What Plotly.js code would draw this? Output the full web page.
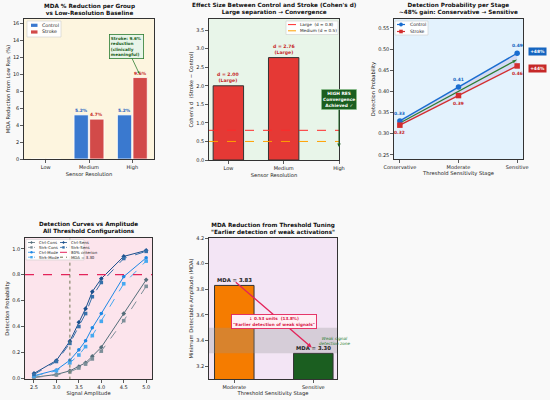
<!DOCTYPE html>
<html><head><meta charset="utf-8">
<script src="https://cdn.plot.ly/plotly-3.0.1.min.js"></script>
<style>html,body{margin:0;padding:0;background:#f9f9f9}#chart{width:550px;height:400px}</style>
</head><body><div id="chart"></div>
<script>
// ---------------- data ----------------
const resCats = ['Low', 'Medium', 'High'];
const mdaRedControl = [0, 5.2, 5.2];
const mdaRedStroke = [0, 4.7, 9.6];

const cohenD = [2.00, 2.76, null];
const cohenLabel = ['Large', 'Large', ''];
const effLarge = 0.8;
const effMedium = 0.5;
const convergenceD = 0.35;

const stages = ['Conservative', 'Moderate', 'Sensitive'];
const detControl = [0.33, 0.41, 0.49];
const detStroke = [0.32, 0.39, 0.46];
const detMean = [0.325, 0.40, 0.475];

const amps = [2.5, 3.0, 3.3, 3.5, 3.65, 3.8, 4.0, 4.5, 5.0];
const ctrlCons = [0.008, 0.03, 0.058, 0.09, 0.12, 0.17, 0.24, 0.50, 0.76];
const strkCons = [0.006, 0.026, 0.05, 0.08, 0.11, 0.15, 0.21, 0.445, 0.71];
const ctrlMode = [0.02, 0.065, 0.14, 0.22, 0.29, 0.39, 0.50, 0.785, 0.93];
const strkMode = [0.018, 0.058, 0.12, 0.18, 0.245, 0.33, 0.44, 0.73, 0.905];
const ctrlSens = [0.038, 0.138, 0.287, 0.433, 0.538, 0.669, 0.769, 0.941, 0.987];
const strkSens = [0.03, 0.13, 0.27, 0.40, 0.50, 0.63, 0.74, 0.925, 0.98];
const criterion = 0.8;

const mdaStages = ['Moderate', 'Sensitive'];
const mdaValues = [3.83, 3.30];
const weakZone = [3.3, 3.5];

// ---------------- helpers ----------------
const W = 550, H = 400;
const PX = x => x / W, PY = y => 1 - y / H;
const F = 'DejaVu Sans, Liberation Sans, sans-serif';
const shapes = [], annotations = [], traces = [];

function axis(d0, d1, anchor, extra) {
  return Object.assign({
    domain: [d0, d1], anchor: anchor, showline: true, mirror: true, linecolor: '#333',
    linewidth: 1.2, ticks: 'outside', ticklen: 2.5, tickwidth: 0.8, tickcolor: '#333',
    showgrid: false, zeroline: false, tickfont: {size: 5, color: '#222'}, automargin: false
  }, extra);
}
function title(t) { return {text: t, font: {size: 5.2, color: '#222'}, standoff: 2}; }

const dom = {
  p1: {x: [PX(24), PX(154)], y: [PY(159), PY(19)]},
  p2: {x: [PX(209), PX(339)], y: [PY(160), PY(19)]},
  p3: {x: [PX(394), PX(523)], y: [PY(159), PY(19)]},
  p4: {x: [PX(25), PX(152)], y: [PY(379), PY(238)]},
  p5: {x: [PX(209), PX(337)], y: [PY(379), PY(238)]}
};
const bgs = [['', '#fdf5df'], ['2', '#e8f5e9'], ['3', '#e3f2fd'], ['4', '#fce4ec'], ['5', '#f3e5f5']];
bgs.forEach(([s, c]) => shapes.push({type: 'rect', xref: 'x' + s + ' domain', yref: 'y' + s + ' domain',
  x0: 0, x1: 1, y0: 0, y1: 1, fillcolor: c, line: {width: 0}, layer: 'below'}));

function ptitle(cx, topPx, text) {
  annotations.push({xref: 'paper', yref: 'paper', x: PX(cx), y: PY(topPx), xanchor: 'center', yanchor: 'bottom', yshift: 1,
    showarrow: false, text: text, font: {size: 5.7, color: '#111'}, align: 'center'});
}

function drawLegend(box, items, fs) {
  shapes.push({type: 'rect', xref: 'paper', yref: 'paper', x0: PX(box[0]), x1: PX(box[1]),
    y0: PY(box[3]), y1: PY(box[2]), fillcolor: 'rgba(255,255,255,0.9)', line: {color: '#cfcfcf', width: 0.6}, layer: 'above'});
  items.forEach(it => {
    if (it.patch) {
      shapes.push({type: 'rect', xref: 'paper', yref: 'paper', x0: PX(it.sx0), x1: PX(it.sx1),
        y0: PY(it.y + 1.6), y1: PY(it.y - 1.6), fillcolor: it.color, line: {width: 0}, layer: 'above'});
    } else {
      shapes.push({type: 'line', xref: 'paper', yref: 'paper', x0: PX(it.sx0), x1: PX(it.sx1),
        y0: PY(it.y), y1: PY(it.y), line: {color: it.color, width: it.lw || 1, dash: it.dash || 'solid'}, layer: 'above'});
      if (it.sym) {
        const cx = (it.sx0 + it.sx1) / 2, r = it.r || 1.5;
        if (it.sym === 'circle') {
          shapes.push({type: 'circle', xref: 'paper', yref: 'paper', x0: PX(cx - r), x1: PX(cx + r),
            y0: PY(it.y + r), y1: PY(it.y - r), fillcolor: it.color, line: {width: 0}, layer: 'above'});
        } else if (it.sym === 'square') {
          shapes.push({type: 'rect', xref: 'paper', yref: 'paper', x0: PX(cx - r), x1: PX(cx + r),
            y0: PY(it.y + r), y1: PY(it.y - r), fillcolor: it.color, line: {width: 0}, layer: 'above'});
        } else {
          const p = `M${PX(cx - r * 1.2)},${PY(it.y)} L${PX(cx)},${PY(it.y - r * 1.2)} L${PX(cx + r * 1.2)},${PY(it.y)} L${PX(cx)},${PY(it.y + r * 1.2)} Z`;
          shapes.push({type: 'path', xref: 'paper', yref: 'paper', path: p, fillcolor: it.color, line: {width: 0}, layer: 'above'});
        }
      }
    }
    annotations.push({xref: 'paper', yref: 'paper', x: PX(it.tx), y: PY(it.y), xanchor: 'left', yanchor: 'middle',
      showarrow: false, text: it.name, font: {size: fs, color: '#222'}});
  });
}

// ---------------- panel 1 ----------------
const cBlue = '#3a79cf', cRed = '#d24a49';
const xi = resCats.map((_, i) => i);
traces.push({type: 'bar', x: xi, y: mdaRedControl, width: 0.33, offset: -0.345, xaxis: 'x', yaxis: 'y',
  marker: {color: cBlue, line: {color: '#ffffff', width: 0.8}}, showlegend: false, hoverinfo: 'skip'});
traces.push({type: 'bar', x: xi, y: mdaRedStroke, width: 0.33, offset: 0.015, xaxis: 'x', yaxis: 'y',
  marker: {color: cRed, line: {color: '#ffffff', width: 0.8}}, showlegend: false, hoverinfo: 'skip'});
xi.forEach(i => {
  if (mdaRedControl[i] > 0) annotations.push({xref: 'x', yref: 'y', x: i - 0.18, y: mdaRedControl[i], xanchor: 'center', yanchor: 'bottom', yshift: 0,
    showarrow: false, text: '<b>' + mdaRedControl[i].toFixed(1) + '%</b>', font: {size: 4.4, color: '#1f5fbf'}});
  if (mdaRedStroke[i] > 0) annotations.push({xref: 'x', yref: 'y', x: i + 0.18, y: mdaRedStroke[i], xanchor: 'center', yanchor: 'bottom', yshift: 0,
    showarrow: false, text: '<b>' + mdaRedStroke[i].toFixed(1) + '%</b>', font: {size: 4.4, color: '#c62828'}});
});
annotations.push({xref: 'x', yref: 'y', x: 2.16, y: mdaRedStroke[2] + 0.45, axref: 'x', ayref: 'y', ax: 1.86, ay: 13.3,
  showarrow: true, arrowhead: 2, arrowsize: 0.6, arrowwidth: 0.8, arrowcolor: '#2e7d32', align: 'left',
  text: '<b>Stroke: ' + mdaRedStroke[2].toFixed(1) + '%<br>reduction<br>(clinically<br>meaningful)</b>',
  font: {size: 4.2, color: '#1b5e20'}, bgcolor: '#e8f5e9', bordercolor: '#2e7d32', borderwidth: 0.8, borderpad: 1});
ptitle(89, 19, '<b>MDA % Reduction per Group<br>vs Low-Resolution Baseline</b>');
drawLegend([27, 61, 21, 37], [
  {name: 'Control', color: cBlue, patch: true, sx0: 31, sx1: 37.5, y: 25.3, tx: 40},
  {name: 'Stroke', color: cRed, patch: true, sx0: 31, sx1: 37.5, y: 32, tx: 40}], 4.7);

// ---------------- panel 2 ----------------
traces.push({type: 'bar', x: xi, y: cohenD, width: 0.55, xaxis: 'x2', yaxis: 'y2',
  marker: {color: '#e53935', line: {color: '#333', width: 1}}, showlegend: false, hoverinfo: 'skip'});
traces.push({type: 'scatter', mode: 'lines', x: [-0.35, 2.0], y: [effLarge, effLarge], xaxis: 'x2', yaxis: 'y2',
  line: {color: '#ff2a2a', width: 1, dash: 'dash'}, showlegend: false, hoverinfo: 'skip'});
traces.push({type: 'scatter', mode: 'lines', x: [-0.35, 2.0], y: [effMedium, effMedium], xaxis: 'x2', yaxis: 'y2',
  line: {color: '#ffa000', width: 1, dash: 'dash'}, showlegend: false, hoverinfo: 'skip'});
cohenD.forEach((v, i) => {
  if (v != null) annotations.push({xref: 'x2', yref: 'y2', x: i, y: v, xanchor: 'center', yanchor: 'bottom', yshift: 1, showarrow: false,
    text: '<b>d = ' + v.toFixed(2) + '<br>(' + cohenLabel[i] + ')</b>', font: {size: 4.6, color: '#c62828'}});
});
annotations.push({xref: 'x2', yref: 'y2', x: 2, y: convergenceD, axref: 'x2', ayref: 'y2', ax: 2, ay: 1.63,
  showarrow: true, arrowhead: 2, arrowsize: 0.7, arrowwidth: 1, arrowcolor: '#1b5e20',
  text: '<b>HIGH RES<br>Convergence<br>Achieved ✓</b>', font: {size: 4.4, color: '#ffffff'},
  bgcolor: '#1b5e20', bordercolor: '#a5d6a7', borderwidth: 0.6, borderpad: 1.5});
ptitle(274, 19, "<b>Effect Size Between Control and Stroke (Cohen's d)<br>Large separation → Convergence</b>");
drawLegend([286, 338, 21, 34.5], [
  {name: 'Large  (d = ' + effLarge + ')', color: '#ff2a2a', dash: 'dash', sx0: 288, sx1: 296, y: 24.6, tx: 298},
  {name: 'Medium (d = ' + effMedium + ')', color: '#ffa000', dash: 'dash', sx0: 288, sx1: 296, y: 30.8, tx: 298}], 4.2);

// ---------------- panel 3 ----------------
const cB3 = '#1a6dd0', cR3 = '#d32f2f', cG3 = '#2e7d32';
traces.push({type: 'scatter', mode: 'lines', x: [0, 1, 2, 2, 1, 0], y: detControl.concat(detStroke.slice().reverse()),
  fill: 'toself', fillcolor: 'rgba(170,150,215,0.25)', line: {width: 0}, xaxis: 'x3', yaxis: 'y3', showlegend: false, hoverinfo: 'skip'});
traces.push({type: 'scatter', mode: 'lines+markers', x: [0, 1, 2], y: detMean, xaxis: 'x3', yaxis: 'y3',
  line: {color: cG3, width: 1.2}, marker: {symbol: 'arrow', angleref: 'previous', size: 5, color: cG3, opacity: [0, 0, 1]},
  showlegend: false, hoverinfo: 'skip'});
traces.push({type: 'scatter', mode: 'lines+markers', x: [0, 1, 2], y: detControl, xaxis: 'x3', yaxis: 'y3',
  line: {color: cB3, width: 1.4}, marker: {symbol: 'circle', size: 5.5, color: cB3}, showlegend: false, hoverinfo: 'skip'});
traces.push({type: 'scatter', mode: 'lines+markers', x: [0, 1, 2], y: detStroke, xaxis: 'x3', yaxis: 'y3',
  line: {color: cR3, width: 1.4}, marker: {symbol: 'square', size: 5.5, color: cR3}, showlegend: false, hoverinfo: 'skip'});
detControl.forEach((v, i) => {
  annotations.push({xref: 'x3', yref: 'y3', x: i, y: v, xanchor: 'center', yanchor: 'bottom', yshift: 3, showarrow: false,
    text: '<b>' + v.toFixed(2) + '</b>', font: {size: 4.4, color: '#1565c0'}});
  annotations.push({xref: 'x3', yref: 'y3', x: i, y: detStroke[i], xanchor: 'center', yanchor: 'top', yshift: -3, showarrow: false,
    text: '<b>' + detStroke[i].toFixed(2) + '</b>', font: {size: 4.4, color: '#c62828'}});
});
const gC = Math.round((detControl[2] - detControl[0]) / detControl[0] * 100);
const gS = Math.round((detStroke[2] - detStroke[0]) / detStroke[0] * 100);
annotations.push({xref: 'paper', yref: 'y3', x: PX(537), y: detControl[2] + 0.003, xanchor: 'center', showarrow: false,
  text: '<b>+' + gC + '%</b>', font: {size: 4.4, color: '#fff'}, bgcolor: '#1565c0', borderpad: 1.2});
annotations.push({xref: 'paper', yref: 'y3', x: PX(537), y: detStroke[2] - 0.005, xanchor: 'center', showarrow: false,
  text: '<b>+' + gS + '%</b>', font: {size: 4.4, color: '#fff'}, bgcolor: '#c62828', borderpad: 1.2});
ptitle(458.5, 19, '<b>Detection Probability per Stage<br>~48% gain: Conservative → Sensitive</b>');
drawLegend([395, 428, 21, 35], [
  {name: 'Control', color: cB3, sym: 'circle', r: 1.9, lw: 1.2, sx0: 397, sx1: 405, y: 24.5, tx: 408},
  {name: 'Stroke', color: cR3, sym: 'square', r: 1.8, lw: 1.2, sx0: 397, sx1: 405, y: 31.5, tx: 408}], 4.5);

// ---------------- panel 4 ----------------
const curves = [
  {name: 'Ctrl-Cons', y: ctrlCons, color: '#546e7a', dash: 'solid', sym: 'diamond'},
  {name: 'Strk-Cons', y: strkCons, color: '#7d8f99', dash: 'dash', sym: 'square'},
  {name: 'Ctrl-Mode', y: ctrlMode, color: '#1e88e5', dash: 'solid', sym: 'circle'},
  {name: 'Strk-Mode', y: strkMode, color: '#45a8f0', dash: 'dash', sym: 'square'},
  {name: 'Ctrl-Sens', y: ctrlSens, color: '#1a4f8c', dash: 'solid', sym: 'diamond'},
  {name: 'Strk-Sens', y: strkSens, color: '#3670aa', dash: 'dash', sym: 'square'}];
curves.forEach(c => traces.push({type: 'scatter', mode: 'lines+markers', x: amps, y: c.y, xaxis: 'x4', yaxis: 'y4',
  line: {color: c.color, width: 1, dash: c.dash}, marker: {symbol: c.sym, size: 3.6, color: c.color},
  showlegend: false, hoverinfo: 'skip'}));
traces.push({type: 'scatter', mode: 'lines', x: [2.3, 5.13], y: [criterion, criterion], xaxis: 'x4', yaxis: 'y4',
  line: {color: '#e3245a', width: 1.2, dash: 'dash'}, showlegend: false, hoverinfo: 'skip'});
traces.push({type: 'scatter', mode: 'lines', x: [mdaValues[1], mdaValues[1]], y: [-0.01, 1.08], xaxis: 'x4', yaxis: 'y4',
  line: {color: '#6f7552', width: 1, dash: 'dot'}, showlegend: false, hoverinfo: 'skip'});
ptitle(88.5, 238, '<b>Detection Curves vs Amplitude<br>All Threshold Configurations</b>');
const lg4 = [];
const rows = [242.5, 247.4, 252.3, 257.2];
curves.slice(0, 4).forEach((c, k) => lg4.push({name: c.name, color: c.color, dash: c.dash === 'dash' ? 'dot' : 'solid', sym: c.sym, r: 1.2, lw: 0.8, sx0: 28, sx1: 35, y: rows[k], tx: 36.5}));
curves.slice(4).forEach((c, k) => lg4.push({name: c.name, color: c.color, dash: c.dash === 'dash' ? 'dot' : 'solid', sym: c.sym, r: 1.2, lw: 0.8, sx0: 60, sx1: 67, y: rows[k], tx: 68.5}));
lg4.push({name: (criterion * 100) + '% criterion', color: '#e3245a', dash: 'dash', lw: 1, sx0: 60, sx1: 67, y: rows[2], tx: 68.5});
lg4.push({name: 'MDA = ' + mdaValues[1].toFixed(2), color: '#6f7552', dash: 'dot', lw: 1, sx0: 60, sx1: 67, y: rows[3], tx: 68.5});
drawLegend([26, 84, 239.5, 260], lg4, 3.9);

// ---------------- panel 5 ----------------
traces.push({type: 'bar', x: [0, 1], y: mdaValues, width: 0.5, xaxis: 'x5', yaxis: 'y5',
  marker: {color: ['#f57c00', '#1b5e20'], line: {color: '#333', width: 1}}, showlegend: false, hoverinfo: 'skip'});
shapes.push({type: 'rect', xref: 'x5 domain', yref: 'y5', x0: 0, x1: 1, y0: weakZone[0], y1: weakZone[1],
  fillcolor: 'rgba(150,150,150,0.3)', line: {width: 0}, layer: 'above'});
mdaValues.forEach((v, i) => annotations.push({xref: 'x5', yref: 'y5', x: i, y: v, xanchor: 'center', yanchor: 'bottom', yshift: 0,
  showarrow: false, text: '<b>MDA = ' + v.toFixed(2) + '</b>', font: {size: 5.3, color: '#222'}}));
annotations.push({xref: 'x5', yref: 'y5', x: 0.98, y: 3.345, axref: 'x5', ayref: 'y5', ax: 0.0, ay: 3.865,
  showarrow: true, arrowhead: 2, arrowsize: 0.7, arrowwidth: 1.3, arrowcolor: '#e3245a', text: ''});
const dM = mdaValues[0] - mdaValues[1];
annotations.push({xref: 'x5', yref: 'y5', x: 0.505, y: 3.545, xanchor: 'center', showarrow: false,
  text: '<b>↓ ' + dM.toFixed(2) + ' units  (' + (dM / mdaValues[0] * 100).toFixed(1) + '%)<br>"Earlier detection of weak signals"</b>',
  font: {size: 4.2, color: '#d81b4a'}, bgcolor: '#fff0f4', bordercolor: '#e3245a', borderwidth: 0.9, borderpad: 1.2});
annotations.push({xref: 'x5', yref: 'y5', x: 1.28, y: 3.40, xanchor: 'center', showarrow: false,
  text: '<i>Weak signal<br>detection zone</i>', font: {size: 4.2, color: '#2e7d32'}});
ptitle(273, 238, '<b>MDA Reduction from Threshold Tuning<br>"Earlier detection of weak activations"</b>');

// ---------------- layout ----------------
const layout = {
  width: W, height: H, margin: {l: 0, r: 0, t: 0, b: 0}, paper_bgcolor: '#f9f9f9', plot_bgcolor: 'rgba(0,0,0,0)',
  font: {family: F, size: 5, color: '#222'}, showlegend: false, barmode: 'overlay',
  xaxis: axis(dom.p1.x[0], dom.p1.x[1], 'y', {range: [-0.5, 2.5], tickvals: xi, ticktext: resCats, title: title('Sensor Resolution')}),
  yaxis: axis(dom.p1.y[0], dom.p1.y[1], 'x', {range: [0, 16.5], dtick: 2, title: title('MDA Reduction from Low Res. (%)')}),
  xaxis2: axis(dom.p2.x[0], dom.p2.x[1], 'y2', {range: [-0.35, 2.0], tickvals: xi, ticktext: resCats, title: title('Sensor Resolution')}),
  yaxis2: axis(dom.p2.y[0], dom.p2.y[1], 'x2', {range: [0, 3.8], dtick: 0.5, tickformat: '.1f', title: title("Cohen's d  (Stroke − Control)")}),
  xaxis3: axis(dom.p3.x[0], dom.p3.x[1], 'y3', {range: [-0.1, 2.1], tickvals: [0, 1, 2], ticktext: stages, title: title('Threshold Sensitivity Stage')}),
  yaxis3: axis(dom.p3.y[0], dom.p3.y[1], 'x3', {range: [0.24, 0.571], tick0: 0.25, dtick: 0.05, tickformat: '.2f', title: title('Detection Probability')}),
  xaxis4: axis(dom.p4.x[0], dom.p4.x[1], 'y4', {range: [2.3, 5.13], tick0: 2.5, dtick: 0.5, tickformat: '.1f', title: title('Signal Amplitude')}),
  yaxis4: axis(dom.p4.y[0], dom.p4.y[1], 'x4', {range: [-0.005, 1.083], tick0: 0, dtick: 0.2, tickformat: '.1f', title: title('Detection Probability')}),
  xaxis5: axis(dom.p5.x[0], dom.p5.x[1], 'y5', {range: [-0.32, 1.3], tickvals: [0, 1], ticktext: mdaStages, title: title('Threshold Sensitivity Stage')}),
  yaxis5: axis(dom.p5.y[0], dom.p5.y[1], 'x5', {range: [3.1, 4.2], tick0: 3.2, dtick: 0.2, tickformat: '.1f', title: title('Minimum Detectable Amplitude (MDA)')}),
  shapes: shapes, annotations: annotations
};
Plotly.newPlot('chart', traces, layout, {displayModeBar: false, staticPlot: true});
</script></body></html>
